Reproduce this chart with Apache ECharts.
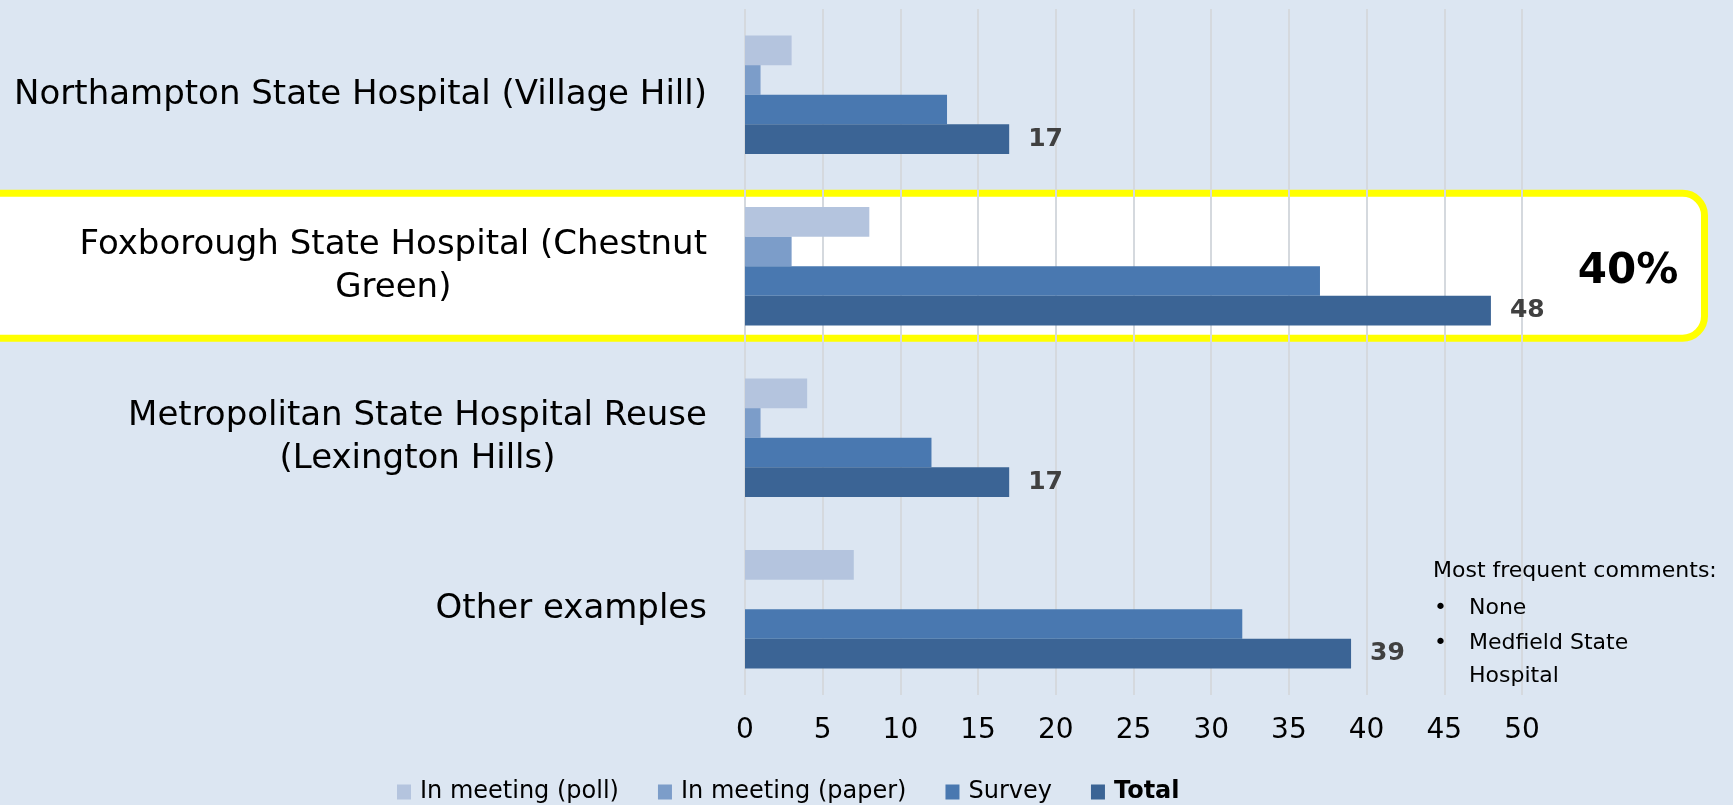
<!DOCTYPE html>
<html>
<head>
<meta charset="utf-8">
<script src="https://cdn.jsdelivr.net/npm/echarts@6/dist/echarts.min.js"></script>
<style>
html,body{margin:0;padding:0;background:#DCE6F2;}
#chart{width:1733px;height:805px;}
</style>
</head>
<body>
<div id="chart"></div>
<script>
const categories = [
  'Northampton State Hospital (Village Hill)',
  'Foxborough State Hospital (Chestnut\nGreen)',
  'Metropolitan State Hospital Reuse\n(Lexington Hills)',
  'Other examples'
];
const seriesNames = ['In meeting (poll)', 'In meeting (paper)', 'Survey', 'Total'];
const pollValues = [3, 8, 4, 7];
const paperValues = [1, 3, 1, 0];
const surveyValues = [13, 37, 12, 32];
const totalValues = [17, 48, 17, 39];
const highlightCategory = categories[1];
const highlightText = '40%';
const commentTitle = 'Most frequent comments:';
const commentLines = [['•', 'None'], ['•', 'Medfield State'], ['', 'Hospital']];

const FONT = 'DejaVu Sans';
const colors = ['#B4C4DE', '#7C9DC9', '#4978B0', '#3B6495'];

const chart = echarts.init(document.getElementById('chart'));

function barSeries(name, data, idx, withLabel) {
  return {
    name: name,
    type: 'bar',
    data: data,
    barGap: '0%',
    barCategoryGap: '31%',
    itemStyle: { color: colors[idx] },
    label: withLabel ? {
      show: true, position: 'right', distance: 19,
      fontFamily: FONT, fontSize: 25, fontWeight: 'bold', color: '#404040'
    } : { show: false },
    z: 3
  };
}

const option = {
  backgroundColor: '#DCE6F2',
  animation: false,
  textStyle: { fontFamily: FONT },
  grid: { left: 745, right: 211, top: 9, bottom: 110, containLabel: false },
  legend: {
    left: 392, top: 775,
    itemWidth: 14, itemHeight: 15, itemGap: 39,
    icon: 'rect',
    textStyle: { fontFamily: FONT, fontSize: 24, color: '#000', padding: [0, 0, 0, 4] },
    data: [
      { name: seriesNames[0] },
      { name: seriesNames[1] },
      { name: seriesNames[2] },
      { name: seriesNames[3], textStyle: { fontWeight: 'bold' } }
    ]
  },
  xAxis: {
    type: 'value', min: 0, max: 50, interval: 5,
    axisLine: { show: false }, axisTick: { show: false },
    splitLine: { show: true, lineStyle: { color: '#D5D9DE', width: 2 } },
    axisLabel: { fontFamily: FONT, fontSize: 28, color: '#000', margin: 22 }
  },
  yAxis: {
    type: 'category', inverse: true, data: categories,
    axisLine: { show: false }, axisTick: { show: false },
    axisLabel: {
      margin: 38, align: 'right',
      formatter: function (v) { return v.split('\n').map(function (l) { return '{c|' + l + '}'; }).join('\n'); },
      rich: { c: { align: 'center', fontFamily: FONT, fontSize: 34, color: '#000', lineHeight: 43 } }
    }
  },
  series: [
    barSeries(seriesNames[0], pollValues, 0, false),
    barSeries(seriesNames[1], paperValues, 1, false),
    barSeries(seriesNames[2], surveyValues, 2, false),
    barSeries(seriesNames[3], totalValues, 3, true)
  ]
};
chart.setOption(option);

const cy = chart.convertToPixel({ yAxisIndex: 0 }, highlightCategory);
const graphics = [
  {
    type: 'rect', z: -5, silent: true,
    shape: { x: -20, y: cy - 73, width: 1724.5, height: 145, r: 22 },
    style: { fill: '#FFFFFF', stroke: '#FFFF00', lineWidth: 7 }
  },
  {
    type: 'text', z: 10, silent: true, x: 1628, y: cy + 6,
    style: { text: highlightText, fill: '#000', font: 'bold 42px "DejaVu Sans"', textAlign: 'center', textVerticalAlign: 'middle' }
  },
  {
    type: 'text', z: 10, silent: true, x: 1433, y: 571,
    style: { text: commentTitle, fill: '#000', font: '22px "DejaVu Sans"', textAlign: 'left', textVerticalAlign: 'middle' }
  }
];
const lineYs = [608, 643, 676];
commentLines.forEach(function (pair, i) {
  if (pair[0]) {
    graphics.push({
      type: 'text', z: 10, silent: true, x: 1434, y: lineYs[i],
      style: { text: pair[0], fill: '#000', font: '22px "DejaVu Sans"', textAlign: 'left', textVerticalAlign: 'middle' }
    });
  }
  graphics.push({
    type: 'text', z: 10, silent: true, x: 1469, y: lineYs[i],
    style: { text: pair[1], fill: '#000', font: '22px "DejaVu Sans"', textAlign: 'left', textVerticalAlign: 'middle' }
  });
});
chart.setOption({ graphic: graphics });
</script>
</body>
</html>
